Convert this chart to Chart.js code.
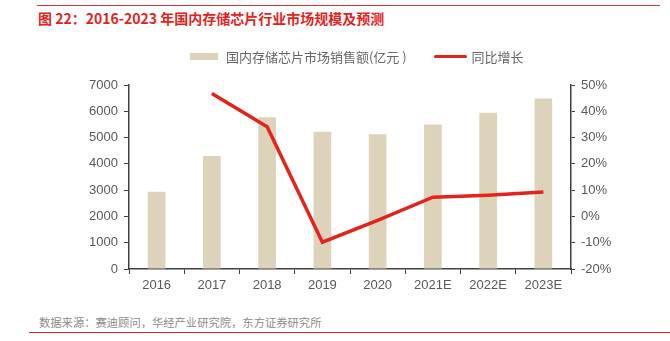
<!DOCTYPE html>
<html>
<head>
<meta charset="utf-8">
<script src="https://cdn.jsdelivr.net/npm/chart.js@4"></script>
<style>
  body { margin: 0; background: #fff; font-family: "Noto Sans CJK SC", "Liberation Sans", sans-serif; }
  #wrap { position: relative; width: 670px; height: 341px; overflow: hidden; }
  #topline { position: absolute; left: 37px; top: 5px; width: 623px; height: 1px; background: #d9352e; }
  #title { position: absolute; left: 38px; top: 8px; font-size: 14px; font-weight: bold; color: #e3241d; white-space: nowrap; }
  #chartbox { position: absolute; left: 0; top: 0; width: 670px; height: 300px; }
  #legend { position: absolute; top: 45px; left: 190px; font-size: 13px; color: #666; white-space: nowrap; }
  #legend span { display: inline-block; vertical-align: middle; }
  #source { position: absolute; left: 39px; top: 314px; font-size: 11.3px; color: #8c8c8c; white-space: nowrap; }
  #botline { position: absolute; left: 29px; top: 332px; width: 641px; height: 1px; background: #e3241d; }
</style>
</head>
<body>
<div id="wrap">
  <div id="topline"></div>
  <div id="title">图 22：2016-2023 年国内存储芯片行业市场规模及预测</div>
  <div id="chartbox"><canvas id="chart-canvas"></canvas></div>
  <div id="legend">
    <span style="width:28px;height:7px;background:#ddd3bb;"></span>
    <span style="margin-left:5px;">国内存储芯片市场销售额(亿元 )</span>
    <span style="width:33px;height:3px;background:#e3241d;margin-left:24px;border-radius:2px;"></span>
    <span style="margin-left:2px;">同比增长</span>
  </div>
  <div id="source">数据来源：赛迪顾问，华经产业研究院，东方证券研究所</div>
  <div id="botline"></div>
</div>
<script>
const years = ['2016', '2017', '2018', '2019', '2020', '2021E', '2022E', '2023E'];
const sales = [2940, 4300, 5770, 5220, 5130, 5500, 5940, 6490];
const growth = [null, 46.8, 34.1, -9.8, -1.5, 7.3, 8.1, 9.3];

const axisColor = '#404040';
const tickColor = '#595959';

const ctx = document.getElementById('chart-canvas').getContext('2d');
const myChart = new Chart(ctx, {
    data: {
        labels: years,
        datasets: [
            {
                type: 'line',
                label: '同比增长',
                data: growth,
                yAxisID: 'y1',
                borderColor: '#e3241d',
                borderWidth: 3.5,
                pointRadius: 0,
                tension: 0,
                order: 0
            },
            {
                type: 'bar',
                label: '国内存储芯片市场销售额(亿元 )',
                data: sales,
                yAxisID: 'y',
                backgroundColor: '#ddd3bb',
                barPercentage: 0.32,
                categoryPercentage: 1,
                order: 1
            }
        ]
    },
    options: {
        responsive: true,
        maintainAspectRatio: false,
        animation: false,
        layout: { padding: { top: 85, right: 0, left: 0, bottom: 0 } },
        plugins: {
            legend: { display: false },
            tooltip: { enabled: false }
        },
        scales: {
            x: {
                offset: true,
                grid: { display: true, drawOnChartArea: false, offset: true, color: axisColor, tickLength: 5 },
                border: { color: axisColor, width: 1.5 },
                ticks: { color: tickColor, font: { size: 13, family: 'Liberation Sans' }, padding: 4 },
                afterFit: s => { s.height = 31; }
            },
            y: {
                position: 'left',
                min: 0, max: 7000,
                grid: { drawOnChartArea: false, color: axisColor, tickLength: 5 },
                border: { color: axisColor, width: 1.5 },
                ticks: { stepSize: 1000, color: tickColor, font: { size: 13, family: 'Liberation Sans' }, padding: 6,
                    callback: v => String(v) },
                afterFit: s => { s.width = 129; }
            },
            y1: {
                position: 'right',
                min: -20, max: 50,
                grid: { drawOnChartArea: false, color: axisColor, tickLength: 4 },
                border: { color: axisColor, width: 1.5 },
                ticks: { stepSize: 10, color: tickColor, font: { size: 13, family: 'Liberation Sans' }, padding: 6,
                    callback: v => v + '%' },
                afterFit: s => { s.width = 99; }
            }
        }
    }
});
</script>
</body>
</html>
